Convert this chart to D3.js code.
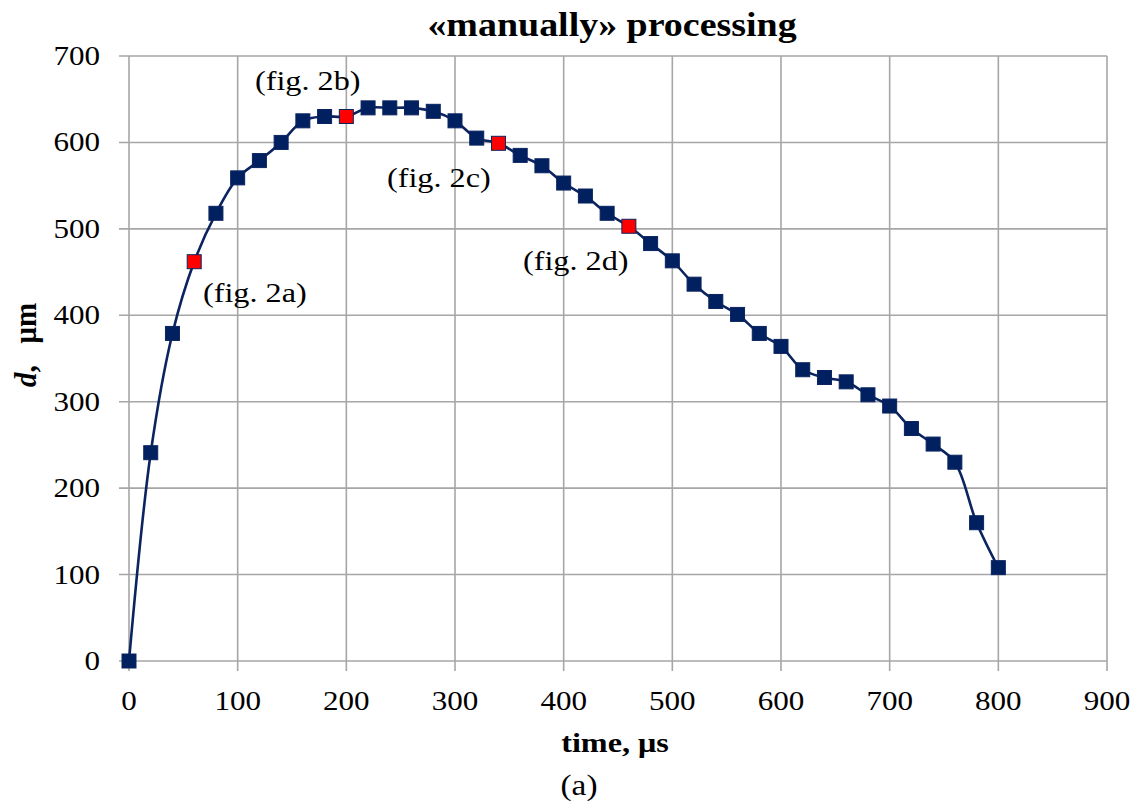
<!DOCTYPE html>
<html lang="en">
<head>
    <meta charset="UTF-8">
    <title>manually processing</title>
    <script src="https://d3js.org/d3.v7.min.js"></script>
    <style>
        body { margin: 0; background: #fff; }
        text { font-family: "Liberation Serif", serif; fill: #000; }
        .tick-label { font-size: 27px; }
        .axis-title { font-size: 28px; font-weight: bold; }
        .chart-title { font-size: 33px; font-weight: bold; }
        .note { font-size: 28px; }
    </style>
</head>
<body>
<svg width="1142" height="803"></svg>
<script>
    // time, µs
    const times = [0, 20, 40, 60, 80, 100, 120, 140, 160, 180, 200, 220, 240, 260, 280, 300,
        320, 340, 360, 380, 400, 420, 440, 460, 480, 500, 520, 540, 560, 580, 600,
        620, 640, 660, 680, 700, 720, 740, 760, 780, 800];
    // d, µm
    const diameters = [0, 241, 379, 462, 518, 559, 579, 600, 625, 630, 630, 640, 640, 640, 636, 625,
        605, 599, 585, 573, 553, 538, 518, 503, 483, 463, 436, 416, 401, 379, 364,
        337, 328, 323, 308, 295, 269, 251, 230, 160, 108];
    // points shown in figure 2
    const figTimes = [60, 200, 340, 460];
    const figLabels = ["(fig. 2a)", "(fig. 2b)", "(fig. 2c)", "(fig. 2d)"];
    const xTicks = [0, 100, 200, 300, 400, 500, 600, 700, 800, 900];
    const yTicks = [0, 100, 200, 300, 400, 500, 600, 700];

    const svg = d3.select("svg");
    const plotL = 129, plotR = 1107, plotT = 56, plotB = 661;
    const sx = 1.15; // the original text is a bit wide

    const x = d3.scaleLinear().domain([0, 900]).range([plotL, plotR]);
    const y = d3.scaleLinear().domain([0, 700]).range([plotB, plotT]);

    const data = times.map((t, i) => ({t: t, d: diameters[i], fig: figTimes.indexOf(t) >= 0}));

    function label(cls, px, py, str, anchor) {
        return svg.append("text")
            .attr("class", cls)
            .attr("transform", `translate(${px},${py}) scale(${sx},1)`)
            .attr("text-anchor", anchor || "start")
            .text(str);
    }

    // grid
    svg.append("g").selectAll("line")
        .data(yTicks).enter().append("line")
        .attr("x1", plotL - 10).attr("x2", plotR)
        .attr("y1", d => y(d)).attr("y2", d => y(d))
        .attr("stroke", "#a6a6a6").attr("stroke-width", 1.6);

    svg.append("g").selectAll("line")
        .data(xTicks).enter().append("line")
        .attr("x1", d => x(d)).attr("x2", d => x(d))
        .attr("y1", plotT).attr("y2", plotB + 10)
        .attr("stroke", "#a6a6a6").attr("stroke-width", 1.6);

    // tick labels
    yTicks.forEach(v => label("tick-label", plotL - 29, y(v) + 9, v, "end"));
    xTicks.forEach(v => label("tick-label", x(v), 710, v, "middle"));

    // axis titles
    label("axis-title", 615, 752, "time, μs", "middle");

    const yt = svg.append("text")
        .attr("class", "axis-title")
        .attr("transform", "translate(36,345) rotate(-90) scale(1,1.1)")
        .attr("text-anchor", "middle")
        .style("font-size", "29px");
    yt.append("tspan").attr("font-style", "italic").text("d");
    yt.append("tspan").text(",\u00a0\u00a0\u00a0μm");

    label("chart-title", 612, 36, "«manually»  processing", "middle");
    label("tick-label", 579, 795, "(a)", "middle").style("font-size", "29px");

    // curve
    const line = d3.line()
        .x(d => x(d.t))
        .y(d => y(d.d))
        .curve(d3.curveCatmullRom.alpha(0.5));

    svg.append("path")
        .datum(data)
        .attr("d", line)
        .attr("fill", "none")
        .attr("stroke", "#0b2460")
        .attr("stroke-width", 2.6);

    const ms = 14;
    svg.append("g").selectAll("rect")
        .data(data).enter().append("rect")
        .attr("x", d => x(d.t) - ms / 2)
        .attr("y", d => y(d.d) - ms / 2)
        .attr("width", ms).attr("height", ms)
        .attr("fill", d => d.fig ? "#ff0000" : "#002060")
        .attr("stroke", "#0b2460")
        .attr("stroke-width", 1);

    // annotations
    const notePos = [[203, 302], [255, 90], [387, 187], [523, 270]];
    figLabels.forEach((s, i) => label("note", notePos[i][0], notePos[i][1], s));
</script>
</body>
</html>
